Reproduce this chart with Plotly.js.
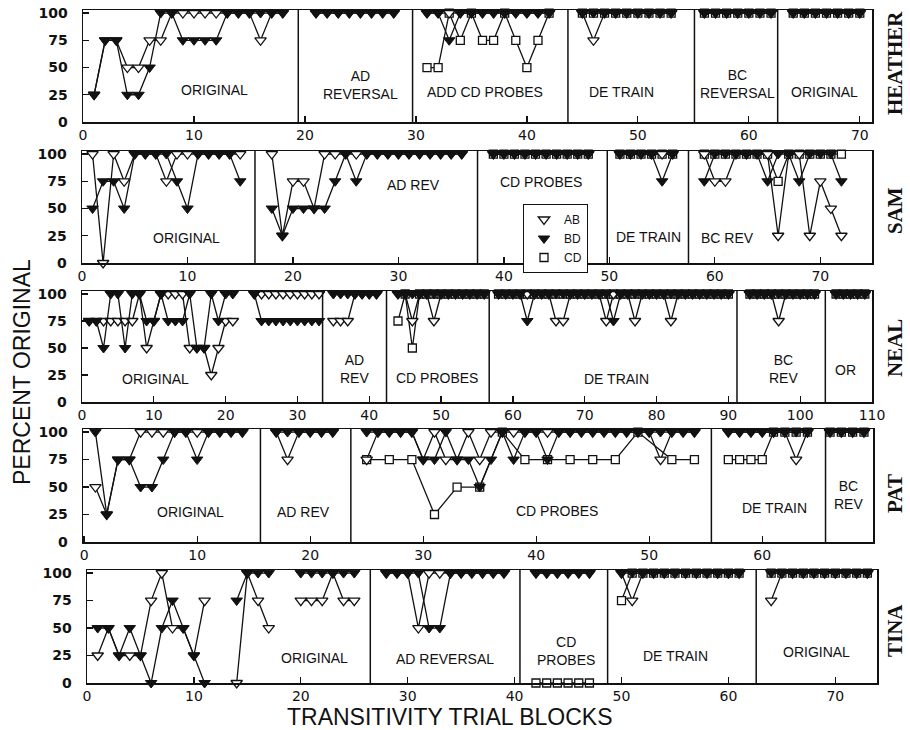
<!DOCTYPE html>
<html><head><meta charset="utf-8">
<script src="https://cdn.plot.ly/plotly-3.0.1.min.js"></script>
<style>html,body{margin:0;padding:0;background:#fff}#chart{width:910px;height:730px}</style>
</head><body><div id="chart"></div>
<script>
// ---------------- DATA ----------------
const subjects = ['HEATHER', 'SAM', 'NEAL', 'PAT', 'TINA'];
const seriesNames = ['AB', 'BD', 'CD'];
const yTickVals = [0, 25, 50, 75, 100];

// HEATHER
const heatherBlocks = [1,2,3,4,5,6,7,8,9,10,11,12,13,14,15,16,17,18, null,
  21,22,23,24,25,26,27,28, null,
  31,32,33,34,35,36,37,38,39,40,41,42, null,
  45,46,47,48,49,50,51,52,53, null,
  56,57,58,59,60,61,62, null,
  64,65,66,67,68,69,70];
const heatherAB = [25,75,75,50,50,75,75,100,100,100,100,100,100,100,100,75,100,100, null,
  100,100,100,100,100,100,100,100, null,
  100,100,100,100,100,100,100,100,100,100,100,100, null,
  100,75,100,100,100,100,100,100,100, null,
  100,100,100,100,100,100,100, null,
  100,100,100,100,100,100,100];
const heatherBD = [25,75,75,25,25,50,100,100,75,75,75,75,100,100,100,100,100,100, null,
  100,100,100,100,100,100,100,100, null,
  100,100,75,100,100,100,100,100,100,100,100,100, null,
  100,100,100,100,100,100,100,100,100, null,
  100,100,100,100,100,100,100, null,
  100,100,100,100,100,100,100];
const heatherCD = [null,null,null,null,null,null,null,null,null,null,null,null,null,null,null,null,null,null, null,
  null,null,null,null,null,null,null,null, null,
  50,50,100,75,100,75,75,100,75,50,75,100, null,
  100,100,100,100,100,100,100,100,100, null,
  100,100,100,100,100,100,100, null,
  100,100,100,100,100,100,100];
const heatherDividers = [19.4, 29.7, 43.7, 55.1, 62.6];
const heatherPhases = ['ORIGINAL', 'AD<br>REVERSAL', 'ADD CD PROBES', 'DE TRAIN', 'BC<br>REVERSAL', 'ORIGINAL'];

// SAM
const samBlocks = [1,2,3,4,5,6,7,8,9,10,11,12,13,14,15, null,
  18,19,20,21,22,23,24,25,26,27,28,29,30,31,32,33,34,35,36, null,
  39,40,41,42,43,44,45,46,47,48, null,
  51,52,53,54,55,56, null,
  59,60,61,62,63,64,65,66,67,68,69,70,71,72];
const samAB = [100,0,100,75,100,100,100,75,100,100,100,100,100,100,100, null,
  100,25,75,75,50,100,100,100,100,100,100,100,100,100,100,100,100,100,100, null,
  100,100,100,100,100,100,100,100,100,100, null,
  100,100,100,100,100,100, null,
  100,75,75,100,100,100,100,25,100,100,25,75,50,25];
const samBD = [50,75,75,50,100,100,100,100,75,50,100,100,100,100,75, null,
  50,25,50,50,50,50,75,100,75,100,100,100,100,100,100,100,100,100,100, null,
  100,100,100,100,100,100,100,100,100,100, null,
  100,100,100,100,75,100, null,
  75,100,100,100,100,100,75,100,100,75,100,100,100,75];
const samCD = [null,null,null,null,null,null,null,null,null,null,null,null,null,null,null, null,
  null,null,null,null,null,null,null,null,null,null,null,null,null,null,null,null,null,null,null, null,
  100,100,100,100,100,100,100,100,100,100, null,
  100,100,100,100,100,100, null,
  100,100,100,100,100,100,100,75,100,100,100,100,100,100];
const samDividers = [16.4, 37.5, 49.8, 57.5];
const samPhases = ['ORIGINAL', 'AD REV', 'CD PROBES', 'DE TRAIN', 'BC REV'];

// NEAL
const nealBlocks = [1,2,3,4,5,6,7,8,9,10,11,12,13,14,15,16,17,18,19,20,21, null,
  24,25,26,27,28,29,30,31,32,33, null,
  35,36,37,38,39,40,41, null,
  44,45,46,47,48,49,50,51,52,53,54,55,56, null,
  58,59,60,61,62,63,64,65,66,67,68,69,70,71,72,73,74,75,76,77,78,79,80,81,82,83,84,85,86,87,88,89,90, null,
  93,94,95,96,97,98,99,100,101,102, null,
  105,106,107,108,109];
const nealAB = [75,75,75,75,75,75,75,100,50,75,100,100,100,100,50,50,50,25,50,75,75, null,
  100,100,100,100,100,100,100,100,100,100, null,
  75,75,75,100,100,100,100, null,
  100,100,75,100,100,75,100,100,100,100,100,100,100, null,
  100,100,100,100,100,100,100,100,75,75,100,100,100,100,100,75,100,100,100,75,100,100,100,100,75,100,100,100,100,100,100,100,100, null,
  100,100,100,100,75,100,100,100,100,100, null,
  100,100,100,100,100];
const nealBD = [75,75,50,100,100,50,100,100,75,75,100,75,75,75,100,50,50,100,75,100,100, null,
  100,75,75,75,75,75,75,75,75,75, null,
  100,100,100,100,100,100,100, null,
  100,100,100,100,100,100,100,100,100,100,100,100,100, null,
  100,100,100,100,75,100,100,100,100,100,100,100,100,100,100,100,75,100,100,100,100,100,100,100,100,100,100,100,100,100,100,100,100, null,
  100,100,100,100,100,100,100,100,100,100, null,
  100,100,100,100,100];
const nealCD = [null,null,null,null,null,null,null,null,null,null,null,null,null,null,null,null,null,null,null,null,null, null,
  null,null,null,null,null,null,null,null,null,null, null,
  null,null,null,null,null,null,null, null,
  75,100,50,100,100,100,100,100,100,100,100,100,100, null,
  100,100,100,100,100,100,100,100,100,100,100,100,100,100,100,100,100,100,100,100,100,100,100,100,100,100,100,100,100,100,100,100,100, null,
  100,100,100,100,100,100,100,100,100,100, null,
  100,100,100,100,100];
const nealDividers = [33.5, 42.4, 56.7, 91.2, 103.5];
const nealPhases = ['ORIGINAL', 'AD<br>REV', 'CD PROBES', 'DE TRAIN', 'BC<br>REV', 'OR'];

// PAT
const patBlocks = [1,2,3,4,5,6,7,8,9,10,11,12,13,14, null,
  17,18,19,20,21,22, null,
  25,26,27,28,29,30,31,32,33,34,35,36,37,38,39,40,41,42,43,44,45,46,47,48,49,50,51,52,53,54, null,
  57,58,59,60,61,62,63,64, null,
  66,67,68,69];
const patAB = [50,25,75,75,100,100,100,100,100,100,100,100,100,100, null,
  100,75,100,100,100,100, null,
  75,100,100,100,100,75,100,75,75,100,75,100,100,100,100,100,100,100,100,100,100,100,100,100,100,100,75,100,100,100, null,
  100,100,100,100,100,100,75,100, null,
  100,100,100,100];
const patBD = [100,25,75,75,50,50,75,100,100,75,100,100,100,100, null,
  100,100,100,100,100,100, null,
  100,100,100,100,100,75,75,100,75,75,50,75,100,75,100,100,75,100,100,100,100,100,100,100,100,100,100,100,100,100, null,
  100,100,100,100,100,100,100,100, null,
  100,100,100,100];
const patCDBlocks = [25,27,29,31,33,35,37,39,41,43,45,47,49,52,54, null,
  57,58,59,60,61,62,63,64, null,
  66,67,68,69];
const patCD = [75,75,75,25,50,50,100,75,75,75,75,75,100,75,75, null,
  75,75,75,75,100,100,100,100, null,
  100,100,100,100];
const patDividers = [15.6, 23.6, 55.5, 65.6];
const patPhases = ['ORIGINAL', 'AD REV', 'CD PROBES', 'DE TRAIN', 'BC<br>REV'];

// TINA
const tinaBlocks = [1,2,3,4,5,6,7,8,9,10,11, null,
  14,15,16,17, null,
  20,21,22,23,24,25, null,
  28,29,30,31,32,33,34,35,36,37,38,39, null,
  42,43,44,45,46,47, null,
  50,51,52,53,54,55,56,57,58,59,60,61, null,
  64,65,66,67,68,69,70,71,72,73];
const tinaAB = [25,50,25,25,25,75,100,50,50,25,75, null,
  0,100,75,50, null,
  75,75,75,100,75,75, null,
  100,100,100,50,100,100,100,100,100,100,100,100, null,
  100,100,100,100,100,100, null,
  100,75,100,100,100,100,100,100,100,100,100,100, null,
  75,100,100,100,100,100,100,100,100,100];
const tinaBD = [50,50,25,50,25,0,50,75,50,25,0, null,
  75,100,100,100, null,
  100,100,100,100,100,100, null,
  100,100,100,100,50,50,100,100,100,100,100,100, null,
  100,100,100,100,100,100, null,
  100,100,100,100,100,100,100,100,100,100,100,100, null,
  100,100,100,100,100,100,100,100,100,100];
const tinaCD = [null,null,null,null,null,null,null,null,null,null,null, null,
  null,null,null,null, null,
  null,null,null,null,null,null, null,
  null,null,null,null,null,null,null,null,null,null,null,null, null,
  0,0,0,0,0,0, null,
  75,100,100,100,100,100,100,100,100,100,100,100, null,
  100,100,100,100,100,100,100,100,100,100];
const tinaDividers = [26.5, 40.5, 48.7, 62.6];
const tinaPhases = ['ORIGINAL', 'AD REVERSAL', 'CD<br>PROBES', 'DE TRAIN', 'ORIGINAL'];

// ---------------- LAYOUT CONFIG ----------------
const W = 910, H = 730;
const panels = [
  {blocks: heatherBlocks, ab: heatherAB, bd: heatherBD, cdBlocks: heatherBlocks, cd: heatherCD, div: heatherDividers, phases: heatherPhases,
   px: [83, 872], py: [10, 122], range: [0, 71.1], tmax: 70, nameY: 63,
   phasePos: [[214, 90], [360, 85], [485, 92], [621, 92], [737, 84], [824, 92]]},
  {blocks: samBlocks, ab: samAB, bd: samBD, cdBlocks: samBlocks, cd: samCD, div: samDividers, phases: samPhases,
   px: [82, 872], py: [151, 263], range: [0, 74.9], tmax: 70, nameY: 211,
   phasePos: [[186, 238], [413, 185], [541, 182], [648, 237], [727, 238]]},
  {blocks: nealBlocks, ab: nealAB, bd: nealBD, cdBlocks: nealBlocks, cd: nealCD, div: nealDividers, phases: nealPhases,
   px: [82, 872], py: [291, 402], range: [0, 110], tmax: 110, nameY: 348,
   phasePos: [[155, 379], [354, 369], [437, 378], [616, 379], [783, 369], [845, 370]]},
  {blocks: patBlocks, ab: patAB, bd: patBD, cdBlocks: patCDBlocks, cd: patCD, div: patDividers, phases: patPhases,
   px: [83, 873], py: [429, 542], range: [-0.1, 69.8], tmax: 70, nameY: 494,
   phasePos: [[190, 512], [303, 512], [557, 511], [774, 508], [848, 495]]},
  {blocks: tinaBlocks, ab: tinaAB, bd: tinaBD, cdBlocks: tinaBlocks, cd: tinaCD, div: tinaDividers, phases: tinaPhases,
   px: [87, 877], py: [570, 683], range: [0, 73.9], tmax: 70, nameY: 631,
   phasePos: [[314, 658], [445, 659], [566, 651], [675, 656], [816, 652]]}
];

const FONT = 'Liberation Sans, Arial, sans-serif';
const TICKFONT = 'DejaVu Sans, sans-serif';
const lineStyle = {color: '#111', width: 1.3};
const styles = {
  CD: {symbol: 'square', size: 8, color: '#fff', line: {color: '#111', width: 1.3}},
  AB: {symbol: 'triangle-down', size: 10, color: '#fff', line: {color: '#111', width: 1.3}},
  BD: {symbol: 'triangle-down', size: 10, color: '#111', line: {color: '#111', width: 1}}
};

const traces = [];
const layout = {
  width: W, height: H, margin: {l: 0, r: 0, t: 0, b: 0},
  paper_bgcolor: '#fff', plot_bgcolor: '#fff',
  showlegend: true,
  legend: {x: 523 / W, y: 1 - 204 / H, xanchor: 'left', yanchor: 'top',
    bordercolor: '#111', borderwidth: 1, bgcolor: '#fff',
    font: {family: FONT, size: 12, color: '#111'}, itemwidth: 30, traceorder: 'normal'},
  shapes: [], annotations: []
};

panels.forEach((p, i) => {
  const s = i === 0 ? '' : String(i + 1);
  const xa = 'x' + s, ya = 'y' + s;
  const ticks = [];
  for (let t = 0; t <= p.tmax; t += 10) ticks.push(t);
  layout['xaxis' + s] = {
    domain: [p.px[0] / W, p.px[1] / W], range: p.range, anchor: ya,
    showline: true, mirror: true, linecolor: '#111', linewidth: 1.5,
    ticks: 'inside', ticklen: 6, tickwidth: 1.3, tickcolor: '#111',
    tickvals: ticks, ticktext: ticks.map(String),
    tickfont: {family: TICKFONT, size: 14, color: '#111'},
    showgrid: false, zeroline: false, fixedrange: true
  };
  layout['yaxis' + s] = {
    domain: [1 - p.py[1] / H, 1 - p.py[0] / H], range: [0, 102.8], anchor: xa,
    showline: true, mirror: true, linecolor: '#111', linewidth: 1.5,
    ticks: 'inside', ticklen: 6, tickwidth: 1.3, tickcolor: '#111',
    tickvals: yTickVals, ticktext: yTickVals.map(String),
    tickfont: {family: TICKFONT, size: 14, color: '#111', weight: 'bold'},
    ticklabelstandoff: 11,
    showgrid: false, zeroline: false, fixedrange: true
  };
  const common = {xaxis: xa, yaxis: ya, mode: 'lines+markers', line: lineStyle,
    cliponaxis: false, connectgaps: false, showlegend: false, hoverinfo: 'skip'};
  traces.push(Object.assign({x: p.cdBlocks, y: p.cd, marker: styles.CD, name: 'CD'}, common));
  traces.push(Object.assign({x: p.blocks, y: p.ab, marker: styles.AB, name: 'AB'}, common));
  traces.push(Object.assign({x: p.blocks, y: p.bd, marker: styles.BD, name: 'BD'}, common));

  p.div.forEach(d => layout.shapes.push({type: 'line', xref: xa, yref: ya + ' domain',
    x0: d, x1: d, y0: 0, y1: 1, line: {color: '#111', width: 1.5}}));

  p.phases.forEach((txt, k) => layout.annotations.push({
    text: txt, xref: 'paper', yref: 'paper', x: p.phasePos[k][0] / W, y: 1 - p.phasePos[k][1] / H,
    xanchor: 'center', yanchor: 'middle', showarrow: false,
    font: {family: FONT, size: 14, color: '#111'}}));

  layout.annotations.push({text: subjects[i], xref: 'paper', yref: 'paper',
    x: 895 / W, y: 1 - p.nameY / H, xanchor: 'center', yanchor: 'middle', textangle: -90,
    showarrow: false, font: {family: 'Liberation Serif, Times New Roman, serif', size: 21, color: '#111', weight: 'bold'}});
});

// legend entries (markers only)
seriesNames.forEach(n => traces.push({x: [null], y: [null], xaxis: 'x2', yaxis: 'y2', mode: 'markers',
  marker: styles[n], name: n, showlegend: true, hoverinfo: 'skip'}));

layout.annotations.push({text: 'PERCENT ORIGINAL', xref: 'paper', yref: 'paper', x: 22 / W, y: 1 - 372 / H,
  xanchor: 'center', yanchor: 'middle', textangle: -90, showarrow: false,
  font: {family: FONT, size: 23, color: '#111'}});
layout.annotations.push({text: 'TRANSITIVITY TRIAL BLOCKS', xref: 'paper', yref: 'paper', x: 450 / W, y: 1 - 717 / H,
  xanchor: 'center', yanchor: 'middle', showarrow: false,
  font: {family: FONT, size: 23, color: '#111'}});

Plotly.newPlot('chart', traces, layout, {staticPlot: true, displayModeBar: false});
</script></body></html>
